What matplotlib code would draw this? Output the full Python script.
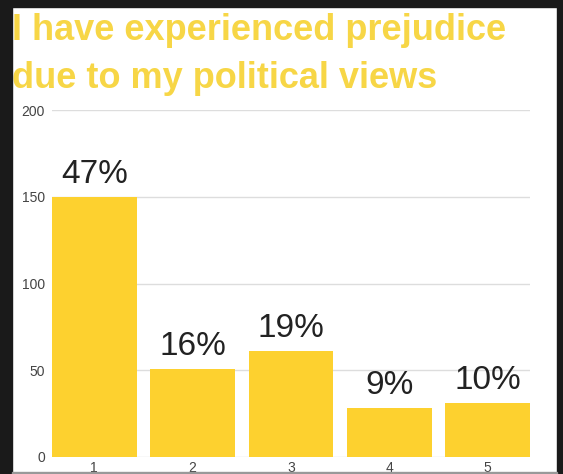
import matplotlib
matplotlib.use("Agg")
import matplotlib.pyplot as plt
from matplotlib.patches import Rectangle

plt.rcParams['font.family'] = ['Liberation Sans', 'DejaVu Sans']

# answers on a 1-5 scale
categories = ['1', '2', '3', '4', '5']
counts = [150, 51, 61, 28, 31]
percent_labels = ['47%', '16%', '19%', '9%', '10%']
yticks = [0, 50, 100, 150, 200]

W, H = 563, 474
fig = plt.figure(figsize=(W / 100, H / 100), dpi=100)
fig.patch.set_facecolor('white')

ax = fig.add_axes([52 / W, (H - 457) / H, (530 - 52) / W, (457 - 110) / H])
x = list(range(1, len(categories) + 1))
ax.bar(x, counts, width=0.86, color='#FDD12F', zorder=2)

for xi, c, lab in zip(x, counts, percent_labels):
    ax.annotate(lab, (xi, c), xytext=(0, 5), textcoords='offset points',
                ha='center', va='bottom', fontsize=24, color='#222222')

ax.set_xlim(0.57, 5.43)
ax.set_ylim(0, 200)
ax.set_yticks(yticks)
ax.set_xticks(x)
ax.set_xticklabels(categories)
ax.yaxis.grid(True, color='#dddddd', linewidth=1, zorder=0)
ax.tick_params(axis='both', length=0, labelsize=10, colors='#444444')
ax.tick_params(axis='y', pad=5)
ax.tick_params(axis='x', pad=3)
for s in ax.spines.values():
    s.set_visible(False)

# title in two lines
fig.text(12 / W, 1 - 31 / H, 'I have experienced prejudice', fontsize=26,
         fontweight='bold', color='#F7D646', ha='left', va='center')
fig.text(12 / W, 1 - 79 / H, 'due to my political views', fontsize=26,
         fontweight='bold', color='#F7D646', ha='left', va='center')

# black frame of the screenshot
fig.patches.append(Rectangle((0, 0), 12 / W, 1, transform=fig.transFigure,
                             color='#1a1a1a', zorder=5))
fig.patches.append(Rectangle((0, 1 - 7 / H), 1, 7 / H, transform=fig.transFigure,
                             color='#1a1a1a', zorder=5))
fig.patches.append(Rectangle((557 / W, 0), 6 / W, 1, transform=fig.transFigure,
                             color='#1a1a1a', zorder=5))
fig.patches.append(Rectangle((12 / W, 0), 545 / W, 2 / H, transform=fig.transFigure,
                             color='#999999', zorder=5))

fig.savefig('out.png', dpi=100)
